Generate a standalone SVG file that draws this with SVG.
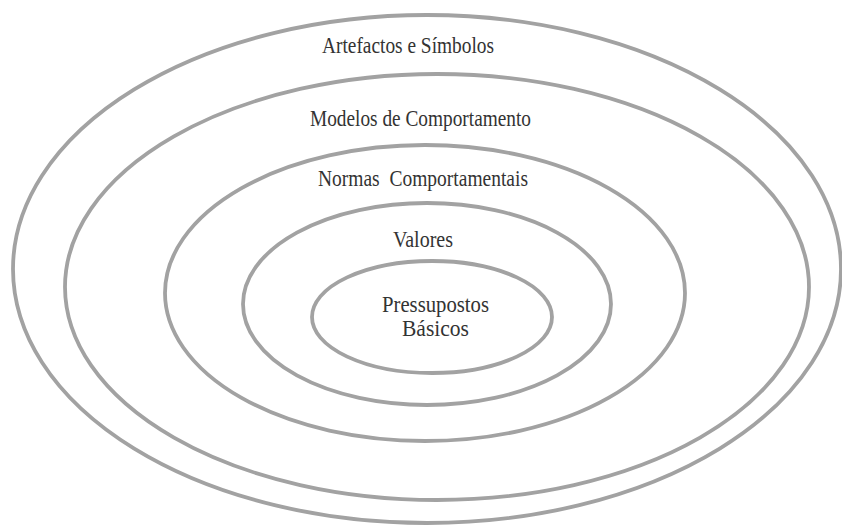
<svg xmlns="http://www.w3.org/2000/svg" width="842" height="529" viewBox="0 0 842 529">
<style>
.ring{fill:none;stroke:#a2a2a2;stroke-width:3.8}
.lbl{font-family:"Liberation Serif","Times New Roman",serif;font-size:23px;fill:#333333}
</style>
<rect width="842" height="529" fill="#ffffff"/>
<g id="artefactos">
<ellipse class="ring" cx="427" cy="269" rx="414" ry="254"/>
<text class="lbl" x="322" y="53" textLength="172" lengthAdjust="spacingAndGlyphs">Artefactos e Símbolos</text>
</g>
<g id="modelos">
<ellipse class="ring" cx="437" cy="287" rx="372" ry="213"/>
<text class="lbl" x="310" y="126" textLength="221" lengthAdjust="spacingAndGlyphs">Modelos de Comportamento</text>
</g>
<g id="normas">
<ellipse class="ring" cx="425" cy="293" rx="260" ry="148"/>
<text class="lbl" x="318" y="186" textLength="210" lengthAdjust="spacingAndGlyphs" xml:space="preserve">Normas  Comportamentais</text>
</g>
<g id="valores">
<ellipse class="ring" cx="427" cy="304" rx="184" ry="101"/>
<text class="lbl" x="393" y="247" textLength="60" lengthAdjust="spacingAndGlyphs">Valores</text>
</g>
<g id="pressupostos">
<ellipse class="ring" cx="432" cy="317" rx="120" ry="56"/>
<text class="lbl" x="382" y="312" textLength="107" lengthAdjust="spacingAndGlyphs">Pressupostos</text>
<text class="lbl" x="402" y="336" textLength="67" lengthAdjust="spacingAndGlyphs">Básicos</text>
</g>
<g id="connectors"/>
</svg>
